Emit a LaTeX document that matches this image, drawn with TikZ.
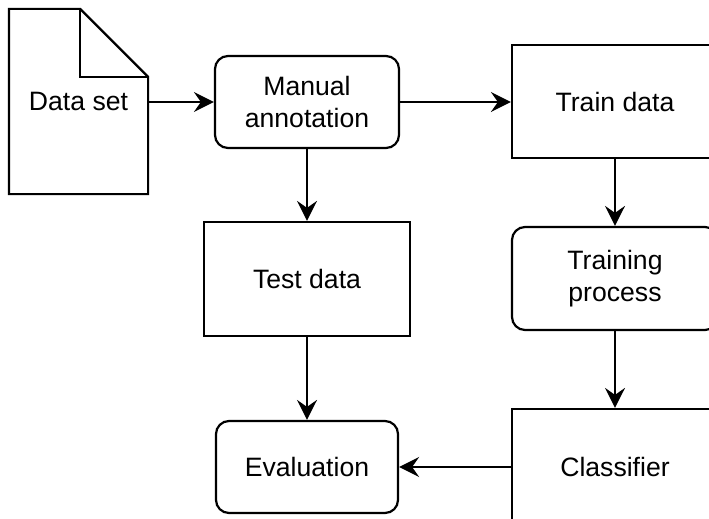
\documentclass[tikz,border=0pt]{standalone}
\usepackage{fontspec}
\setmainfont{Liberation Sans}
\usetikzlibrary{arrows.meta,calc}
\begin{document}
\begin{tikzpicture}[x=1pt,y=-1pt,
  font=\fontsize{26.6}{32}\selectfont,
  every node/.style={align=center, inner sep=0pt, line width=2.2pt},
  procbox/.style={draw, rectangle, line width=2.2pt},
  roundbox/.style={draw, rectangle, rounded corners=13pt, line width=2.2pt},
  flow/.style={line width=2.2pt, -{Stealth[length=20pt, width=20pt, inset=7pt]}}]
  \useasboundingbox (0,0) rectangle (709,519);
  \clip (0,0) rectangle (709,519);

  % document shape with folded corner
  \node (data) [minimum width=137pt, minimum height=183pt] at (78.5,101.5) {Data set};
  \draw[line width=2.2pt, line join=miter]
    (data.south west) -- (data.north west) -- ($(data.north east)+(-68,0)$)
    -- ($(data.north east)+(0,68)$) -- (data.south east) -- cycle;
  \draw[line width=2.2pt, line join=miter]
    ($(data.north east)+(-68,0)$) -- ($(data.north east)+(-68,68)$) -- ($(data.north east)+(0,68)$);

  \node (manual)   [roundbox, minimum width=184pt, minimum height=92pt]  at (307,102)   {Manual\\annotation};
  \node (train)    [procbox,  minimum width=206pt, minimum height=113pt] at (615,101.5) {Train data};
  \node (test)     [procbox,  minimum width=206pt, minimum height=114pt] at (307,279)   {Test data};
  \node (training) [roundbox, minimum width=206pt, minimum height=103pt] at (615,278.5) {Training\\process};
  \node (eval)     [roundbox, minimum width=182pt, minimum height=92pt]  at (307,467)   {Evaluation};
  \node (cls)      [procbox,  minimum width=206pt, minimum height=116pt] at (615,467)   {Classifier};

  \draw[flow] (data.east |- manual.west) -- (manual.west);
  \draw[flow] (manual.east) -- (train.west |- manual.east);
  \draw[flow] (manual.south) -- (test.north);
  \draw[flow] (test.south) -- (eval.north);
  \draw[flow] (train.south) -- (training.north);
  \draw[flow] (training.south) -- (cls.north);
  \draw[flow] (cls.west) -- (eval.east);
\end{tikzpicture}
\end{document}
